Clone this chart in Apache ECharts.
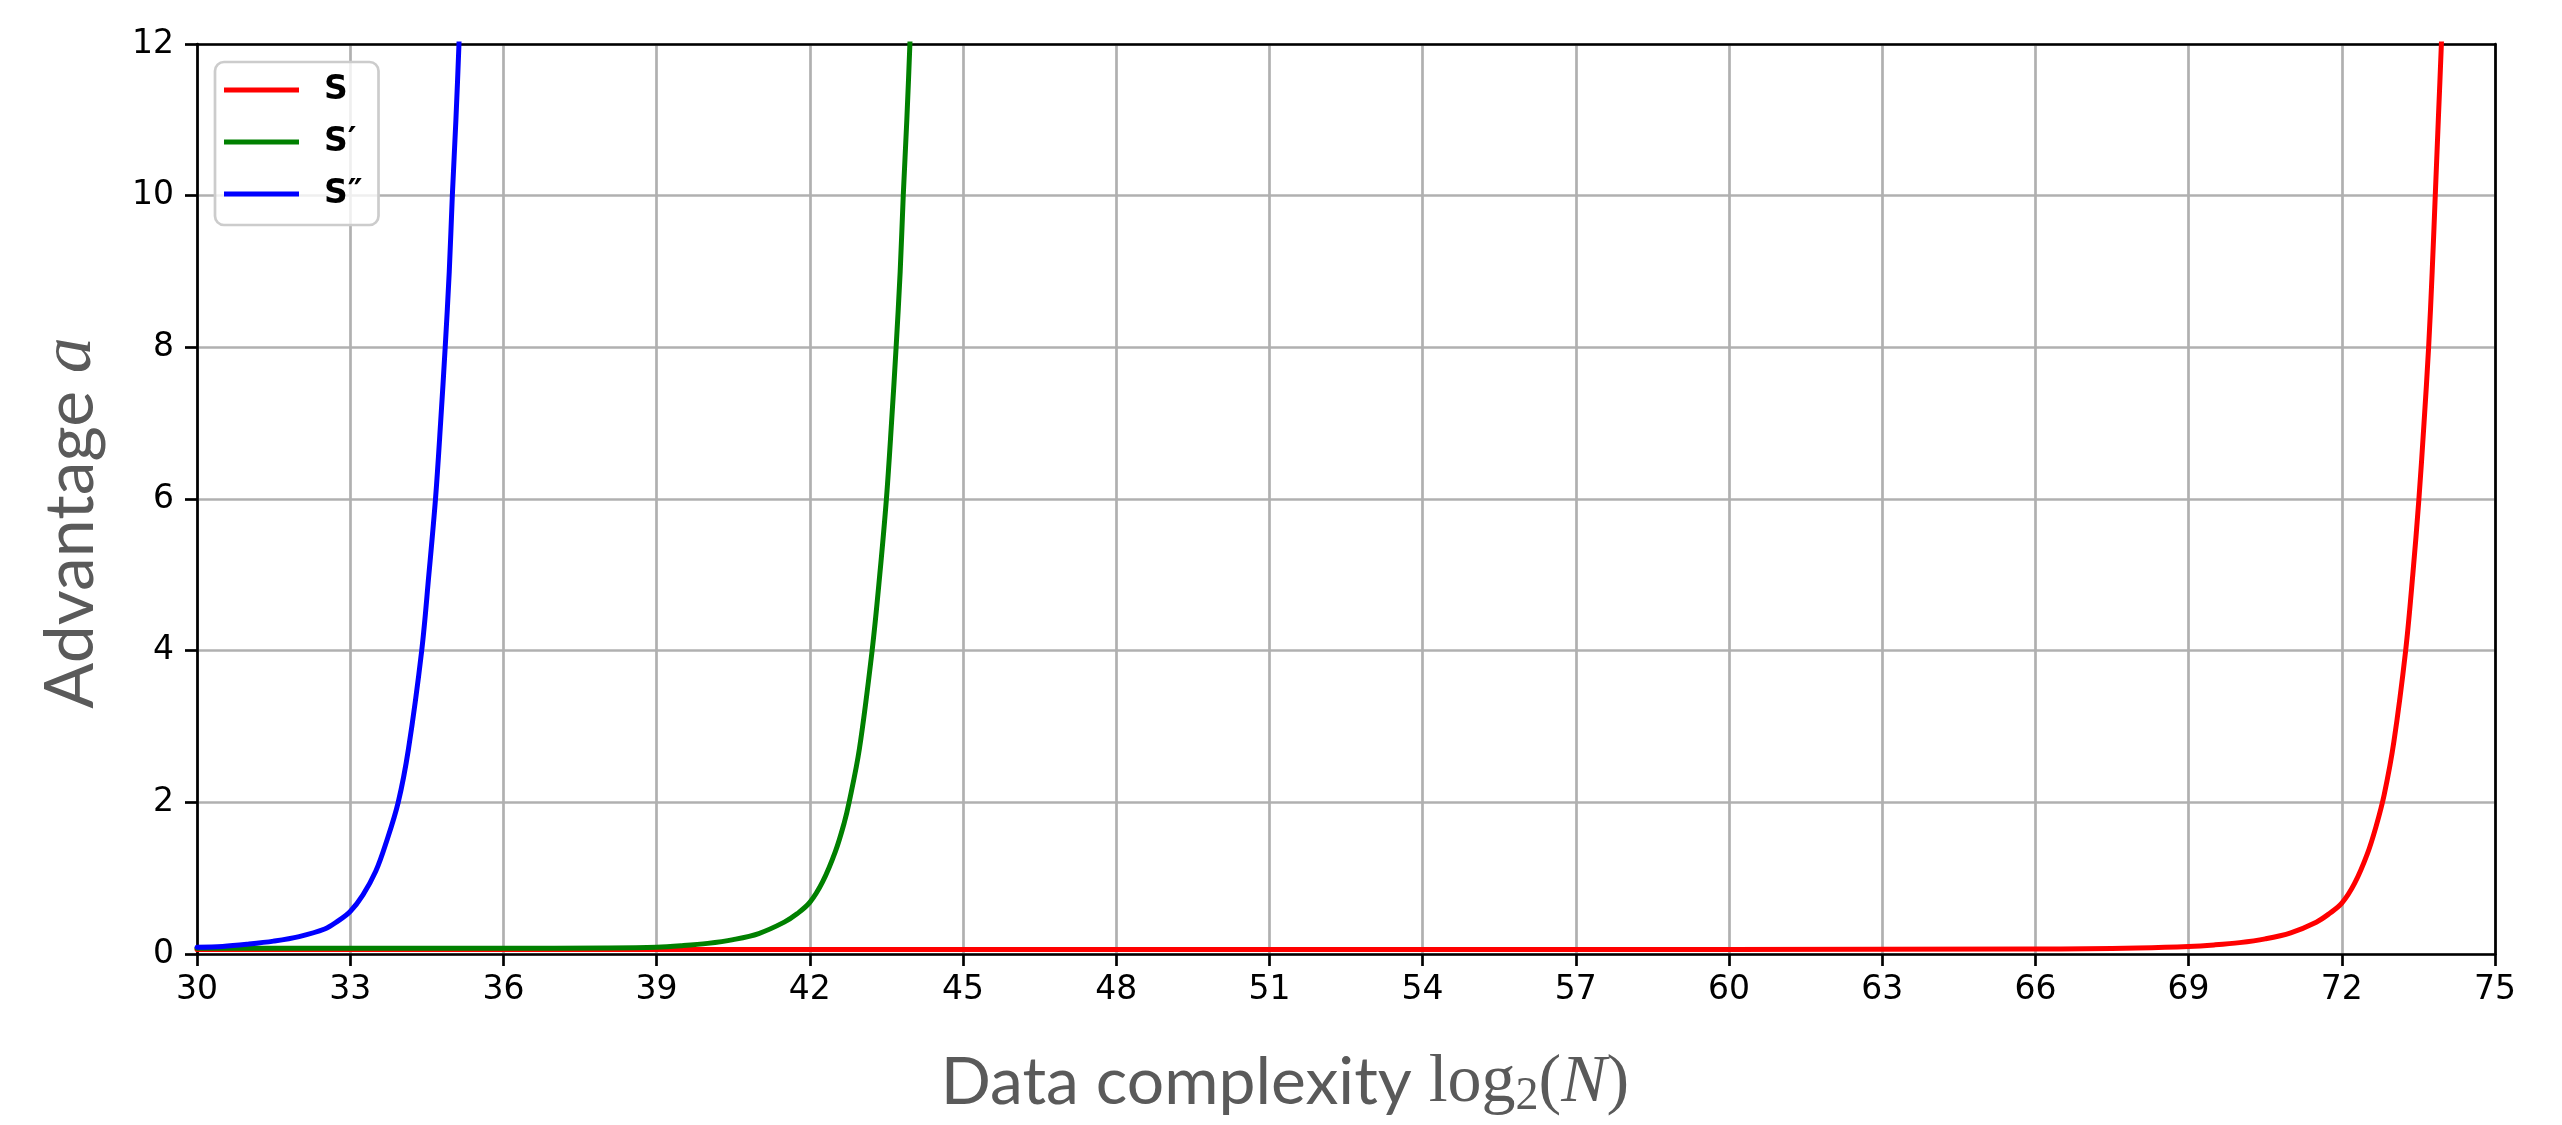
<!DOCTYPE html>
<html>
<head>
<meta charset="utf-8">
<script src="https://cdn.jsdelivr.net/npm/echarts@6/dist/echarts.min.js"></script>
<style>
  html, body { margin: 0; padding: 0; background: #ffffff; }
  #chart { width: 2562px; height: 1125px; }
</style>
</head>
<body>
<div id="chart"></div>
<script>
// ---- Data ----
const seriesNames = ['S', 'S\u2032', 'S\u2033'];

const redX   = [30, 40, 50, 60, 66, 67, 68, 69, 69.5, 70, 70.5, 71, 71.5, 71.75, 72, 72.25, 72.5, 72.67, 72.83, 73.02, 73.25, 73.39, 73.51, 73.61, 73.7, 73.77, 73.83, 73.89, 73.95, 74.0];
const redY   = [0.06, 0.06, 0.06, 0.06, 0.065, 0.07, 0.08, 0.10, 0.12, 0.15, 0.20, 0.28, 0.42, 0.53, 0.67, 0.93, 1.32, 1.68, 2.1, 2.8, 4.0, 5.0, 6.0, 7.0, 8.0, 9.0, 10.0, 11.0, 12.0, 13.0];

const greenX = [30, 33, 36, 38, 39, 39.5, 40, 40.5, 41, 41.5, 41.75, 42, 42.25, 42.5, 42.67, 42.77, 42.97, 43.22, 43.37, 43.5, 43.6, 43.69, 43.77, 43.83, 43.9, 43.96, 44.01];
const greenY = [0.075, 0.075, 0.075, 0.08, 0.09, 0.11, 0.14, 0.19, 0.27, 0.42, 0.53, 0.68, 0.95, 1.35, 1.72, 2.0, 2.7, 4.0, 5.0, 6.0, 7.0, 8.0, 9.0, 10.0, 11.0, 12.0, 13.0];

const blueX  = [30, 30.5, 31, 31.5, 32, 32.5, 32.75, 33, 33.25, 33.5, 33.7, 33.94, 34.14, 34.4, 34.54, 34.67, 34.77, 34.86, 34.94, 35.0, 35.07, 35.13, 35.18];
const blueY  = [0.09, 0.10, 0.13, 0.17, 0.23, 0.33, 0.43, 0.56, 0.78, 1.09, 1.46, 2.0, 2.7, 4.0, 5.0, 6.0, 7.0, 8.0, 9.0, 10.0, 11.0, 12.0, 13.0];

const xMin = 30, xMax = 75, xStep = 3;
const yMin = 0, yMax = 12, yStep = 2;

function zip(xs, ys) { return xs.map((x, i) => [x, ys[i]]); }

const chart = echarts.init(document.getElementById('chart'), null, { renderer: 'canvas' });

const tickFont = { fontFamily: 'DejaVu Sans', fontSize: 33, color: '#000000' };
const labelGray = '#5a5a5a';

function lineSeries(name, xs, ys, color) {
  return {
    name: name,
    type: 'line',
    data: zip(xs, ys),
    showSymbol: false,
    symbol: 'none',
    smooth: 0.35,
    clip: true,
    lineStyle: { color: color, width: 5, join: 'round', cap: 'round' },
    itemStyle: { color: color },
    emphasis: { disabled: true },
    animation: false,
    z: 3
  };
}

const option = {
  backgroundColor: '#ffffff',
  animation: false,
  grid: { left: 197, right: 67, top: 44, bottom: 167, containLabel: false },
  legend: {
    orient: 'vertical',
    left: 215,
    top: 62,
    padding: [8, 16, 11, 9],
    itemWidth: 75,
    itemHeight: 5,
    itemGap: 12,
    icon: 'rect',
    backgroundColor: 'rgba(255,255,255,0.8)',
    borderColor: '#cccccc',
    borderWidth: 2.7,
    borderRadius: 9,
    textStyle: {
      fontFamily: 'DejaVu Sans',
      fontWeight: 'bold',
      fontSize: 33,
      color: '#000000',
      lineHeight: 40,
      padding: [0, 0, 0, 20]
    },
    data: seriesNames,
    z: 10
  },
  xAxis: [
    {
      type: 'value',
      min: xMin, max: xMax, interval: xStep,
      position: 'bottom',
      name: 'Data complexity {m|log}{s|2}{m|(}{i|N}{m|)}',
      nameLocation: 'middle',
      nameGap: 92,
      nameTextStyle: {
        fontFamily: 'Lato',
        fontSize: 66,
        color: labelGray,
        lineHeight: 74,
        padding: [0, 122, 0, 0],
        rich: {
          m: { fontFamily: 'Liberation Serif', fontSize: 68, color: labelGray, lineHeight: 74 },
          i: { fontFamily: 'Liberation Serif', fontStyle: 'italic', fontSize: 68, color: labelGray, lineHeight: 74 },
          s: { fontFamily: 'Liberation Serif', fontSize: 46, color: labelGray, lineHeight: 46, verticalAlign: 'bottom' }
        }
      },
      axisLine: { show: true, onZero: false, lineStyle: { color: '#000000', width: 2.7 } },
      axisTick: { show: true, inside: false, length: 12, lineStyle: { color: '#000000', width: 2.7 } },
      axisLabel: Object.assign({ margin: 20 }, tickFont),
      splitLine: { show: true, lineStyle: { color: '#b0b0b0', width: 2.7 } }
    },
    {
      type: 'value',
      min: xMin, max: xMax, interval: xStep,
      position: 'top',
      axisLine: { show: true, onZero: false, lineStyle: { color: '#000000', width: 2.7 } },
      axisTick: { show: false },
      axisLabel: { show: false },
      splitLine: { show: false }
    }
  ],
  yAxis: [
    {
      type: 'value',
      min: yMin, max: yMax, interval: yStep,
      position: 'left',
      name: '{t|Advantage} {i|a}',
      nameLocation: 'middle',
      nameRotate: 90,
      nameGap: 90,
      nameTextStyle: {
        fontFamily: 'Lato',
        fontSize: 68,
        color: labelGray,
        padding: [0, 48, 0, 0],
        rich: {
          t: { fontFamily: 'Lato', fontSize: 68, color: labelGray },
          i: { fontFamily: 'Liberation Serif', fontStyle: 'italic', fontSize: 72, color: labelGray }
        }
      },
      axisLine: { show: true, onZero: false, lineStyle: { color: '#000000', width: 2.7 } },
      axisTick: { show: true, inside: false, length: 12, lineStyle: { color: '#000000', width: 2.7 } },
      axisLabel: Object.assign({ margin: 23 }, tickFont),
      splitLine: { show: true, lineStyle: { color: '#b0b0b0', width: 2.7 } }
    },
    {
      type: 'value',
      min: yMin, max: yMax, interval: yStep,
      position: 'right',
      axisLine: { show: true, onZero: false, lineStyle: { color: '#000000', width: 2.7 } },
      axisTick: { show: false },
      axisLabel: { show: false },
      splitLine: { show: false }
    }
  ],
  series: [
    lineSeries(seriesNames[0], redX, redY, '#ff0000'),
    lineSeries(seriesNames[1], greenX, greenY, '#008000'),
    lineSeries(seriesNames[2], blueX, blueY, '#0000ff')
  ]
};

chart.setOption(option);
</script>
</body>
</html>
